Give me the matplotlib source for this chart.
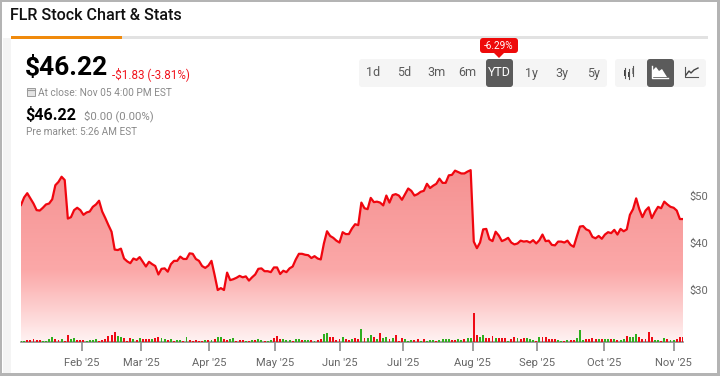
import matplotlib
matplotlib.use('Agg')
import matplotlib.pyplot as plt
import numpy as np
from matplotlib.patches import FancyBboxPatch, Polygon, Rectangle

plt.rcParams['font.family'] = ['Roboto', 'DejaVu Sans']

# daily closes
close = [48.1, 49.7, 50.6, 49.5, 48.4, 47.0, 46.9, 47.5, 48.2, 48.4,
         49.3, 52.3, 53.0, 54.1, 53.4, 45.2, 45.5, 47.0, 47.5, 47.0,
         46.0, 46.5, 46.7, 47.7, 48.2, 49.0, 46.7, 45.3, 43.8, 42.4,
         38.6, 38.5, 38.8, 36.7, 36.1, 35.7, 36.7, 36.4, 37.0, 36.0,
         35.0, 36.0, 35.5, 35.1, 33.3, 34.5, 34.6, 33.9, 35.5, 36.2,
         36.2, 37.1, 36.6, 36.6, 37.8, 37.7, 36.6, 36.2, 35.1, 34.7,
         35.2, 36.2, 33.2, 30.0, 30.4, 30.0, 33.7, 32.1, 32.3, 32.6,
         33.0, 32.7, 32.9, 32.0, 32.7, 33.3, 34.5, 34.6, 34.0, 34.0,
         33.8, 34.8, 34.8, 33.4, 34.1, 33.8, 34.6, 35.0, 36.5, 37.7,
         37.7, 37.5, 37.4, 36.8, 37.2, 36.7, 36.5, 39.9, 42.5, 41.5,
         41.1, 40.5, 40.1, 42.3, 41.9, 41.9, 43.1, 44.0, 43.8, 48.6,
         47.4, 47.2, 49.6, 48.7, 48.8, 48.6, 48.0, 50.1, 48.6, 50.2,
         50.4, 50.1, 49.2, 50.4, 51.6, 51.1, 50.1, 50.4, 50.9, 51.1,
         52.6, 51.7, 52.2, 52.6, 53.7, 52.8, 52.8, 54.4, 54.5, 55.4,
         55.1, 54.8, 54.8, 55.2, 55.5, 40.3, 38.9, 40.1, 42.9, 43.0,
         40.8, 40.4, 42.4, 41.6, 40.4, 40.7, 41.1, 40.1, 39.7, 39.9,
         40.5, 40.3, 40.4, 40.1, 40.6, 39.9, 40.6, 41.8, 40.4, 40.5,
         39.6, 39.5, 40.3, 40.3, 40.1, 40.5, 39.6, 39.2, 41.4, 43.5,
         43.6, 42.9, 42.6, 41.3, 41.0, 41.5, 40.9, 41.8, 42.3, 42.1,
         42.8, 41.8, 43.0, 42.5, 42.9, 46.0, 47.2, 49.5, 47.2, 45.5,
         46.9, 47.6, 45.3, 46.6, 47.7, 47.4, 48.8, 48.2, 47.7, 47.5,
         46.9, 45.1, 45.1]

# volume in millions of shares
volume = [1, 1, 2, 2, 3, 2, 2, 1, 1, 3, 5, 3, 2, 3, 1, 7, 3, 4, 2, 2,
          2, 1, 2, 2, 3, 1, 2, 3, 6, 7, 10, 6, 5, 4, 1, 4, 3, 2, 4, 3,
          3, 3, 3, 4, 5, 4, 3, 2, 3, 1, 2, 2, 1, 5, 2, 1, 2, 1, 1, 2,
          2, 2, 3, 5, 5, 3, 2, 3, 4, 1, 2, 2, 1, 1, 2, 2, 3, 2, 1, 1,
          2, 4, 6, 3, 3, 2, 2, 1, 3, 3, 2, 2, 2, 2, 1, 2, 3, 8, 9, 5,
          5, 2, 3, 5, 3, 2, 3, 4, 3, 13, 4, 4, 7, 5, 3, 9, 4, 5, 3, 4,
          7, 1, 4, 3, 1, 2, 2, 3, 1, 3, 1, 2, 2, 1, 2, 3, 3, 3, 2, 2,
          3, 2, 3, 4, 4, 29, 7, 5, 7, 4, 4, 6, 4, 4, 4, 4, 1, 3, 5, 4,
          3, 4, 4, 3, 2, 1, 5, 5, 5, 3, 3, 3, 2, 1, 1, 2, 2, 2, 4, 12,
          2, 3, 3, 4, 3, 3, 3, 3, 3, 3, 3, 2, 2, 3, 6, 5, 5, 8, 5, 3,
          3, 10, 5, 2, 2, 1, 4, 3, 2, 2, 3, 5, 5]
# the bars drawn in green, all others are red
green_bars = [0, 1, 7, 8, 9, 10, 13, 16, 17, 21, 22, 23, 24, 31, 32, 36, 38,
              42, 45, 46, 48, 50, 51, 53, 59, 61, 63, 64, 67, 68, 72, 74, 76,
              77, 79, 80, 84, 85, 86, 88, 89, 91, 92, 94, 97, 98, 103, 106,
              109, 111, 112, 114, 116, 117, 119, 123, 124, 125, 128, 130, 131,
              132, 134, 135, 136, 137, 140, 141, 143, 144, 147, 148, 152, 156,
              159, 162, 163, 164, 166, 172, 173, 175, 178, 179, 180, 185, 187,
              188, 190, 192, 193, 195, 196, 197, 203, 204, 206, 208, 209]

month_pos = [19.5, 38.5, 60.2, 81.3, 102.2, 122.4, 144.6, 165.4, 186.8, 209]
month_labels = ["Feb '25", "Mar '25", "Apr '25", "May '25", "Jun '25",
                "Jul '25", "Aug '25", "Sep '25", "Oct '25", "Nov '25"]
price_ticks = [30, 40, 50]
range_labels = ['1d', '5d', '3m', '6m', 'YTD', '1y', '3y', '5y']
range_x = [373, 404, 436, 467, 499, 531, 562, 594]

W, H = 720, 376
fig = plt.figure(figsize=(W / 100, H / 100), dpi=100)

# page furniture lives in one axes measured in pixels
bg = fig.add_axes([0, 0, 1, 1])
bg.set_xlim(0, W)
bg.set_ylim(H, 0)
bg.axis('off')
bg.add_patch(Rectangle((0, 0), W, H, fc='#b4b4b4', ec='none'))
bg.add_patch(Rectangle((2, 2), 715, 371, fc='white', ec='none'))
bg.add_patch(Rectangle((3, 38), 8, 335, fc='#f4f4f4', ec='none'))
bg.add_patch(Rectangle((11, 36), 697, 3, fc='#e2e2e2', ec='none'))
bg.add_patch(Rectangle((11, 36), 111, 3, fc='#f08a0c', ec='none'))

bg.text(10, 15.5, 'FLR Stock Chart & Stats', fontsize=11.6, fontweight='medium',
        color='#111111', va='center')
bg.text(25, 68, '$46.22', fontsize=19, fontweight='bold', color='black', va='center')
bg.text(112, 74, '-$1.83 (-3.81%)', fontsize=8.4, color='#f0141e', va='center')
bg.text(37.5, 92.5, 'At close: Nov 05 4:00 PM EST', fontsize=7.3, color='#8a8a8a', va='center')
bg.text(25, 114.5, '$46.22', fontsize=11.6, fontweight='bold', color='black', va='center')
bg.text(84, 116, '$0.00 (0.00%)', fontsize=8.2, color='#8a8a8a', va='center')
bg.text(26, 132, 'Pre market: 5:26 AM EST', fontsize=7.2, color='#8a8a8a', va='center')

# calendar icon
bg.add_patch(Rectangle((26.5, 87.5), 8.5, 8, fc='#e4e4e4', ec='#9a9a9a', lw=0.7))
bg.plot([26.5, 35], [89.8, 89.8], color='#9a9a9a', lw=0.8)


def button(x0, y0, x1, y1, color):
    bg.add_patch(FancyBboxPatch((x0 + 2, y0 + 2), x1 - x0 - 4, y1 - y0 - 4,
                                boxstyle='round,pad=2,rounding_size=3',
                                fc=color, ec='none'))


button(359, 59, 607, 87, '#f5f5f5')
button(615, 59, 706, 87, '#f5f5f5')
button(486, 59, 513, 87, '#5b5b5b')
button(647, 59, 674, 87, '#5b5b5b')
for lab, x in zip(range_labels, range_x):
    bg.text(x, 73, lab, fontsize=9, ha='center', va='center',
            color='white' if lab == 'YTD' else '#5a5a5a')

# tooltip over the YTD button
button(480, 38, 518, 53, '#ee0a0a')
bg.add_patch(Polygon([(494, 53), (504, 53), (499, 58)], fc='#ee0a0a', ec='none'))
bg.text(499, 46, '-6.29%', fontsize=7.2, color='white', ha='center', va='center')

# chart type icons
bg.plot([625, 625], [68, 78], color='#555555', lw=0.8)
bg.plot([629, 629], [69, 79], color='#555555', lw=0.8)
bg.plot([633, 633], [66, 76], color='#555555', lw=0.8)
bg.add_patch(Rectangle((623.8, 70), 2.4, 6, fc='#444444', ec='none'))
bg.add_patch(Rectangle((627.8, 72), 2.4, 5, fc='#444444', ec='none'))
bg.add_patch(Rectangle((631.8, 68), 2.4, 6, fc='#999999', ec='none'))
bg.plot([652, 652, 668], [66, 78, 78], color='white', lw=1)
bg.add_patch(Polygon([(653, 77), (653, 70), (656, 67), (659, 71), (662, 69), (667, 77)],
                     fc='white', ec='none'))
bg.plot([685, 685, 698], [67, 77, 77], color='#555555', lw=0.8)
bg.plot([686, 689, 691, 694, 698], [75, 71, 73, 70, 68], color='#444444', lw=1)

# price chart
left, right, top, bottom = 21, 683, 165, 341.5
rect = [left / W, 1 - bottom / H, (right - left) / W, (bottom - top) / H]
days = np.arange(len(close))
ax = fig.add_axes(rect)
ax.patch.set_alpha(0)
fill = ax.fill_between(days, close, 0, color='none')
stops = np.interp(np.linspace(0, 1, 256), [0, 0.6, 0.76, 1], [145, 168, 197, 242])
grad = np.ones((256, 1, 3))
grad[:, 0, 0] = np.interp(np.linspace(0, 1, 256), [0, 1], [245, 255]) / 255
grad[:, 0, 1] = stops / 255
grad[:, 0, 2] = stops / 255
img = ax.imshow(grad, aspect='auto', extent=(0, 212, 19.04, 56.6), zorder=1)
img.set_clip_path(fill.get_paths()[0], transform=ax.transData)
ax.plot(days, close, color='#f0060f', lw=1.6, zorder=3, solid_joinstyle='round')
ax.set_xlim(0, 212)
ax.set_ylim(19.04, 56.6)
ax.set_xticks(month_pos, month_labels)
ax.set_yticks(price_ticks, ['$%d' % v for v in price_ticks])
ax.yaxis.tick_right()
ax.tick_params(axis='x', length=6.5, width=1.2, color='#8c8c8c', labelcolor='#666666',
               labelsize=8, pad=5.2)
ax.tick_params(axis='y', length=0, labelcolor='#666666', labelsize=8, pad=4.5)
for name in ['top', 'left', 'right']:
    ax.spines[name].set_visible(False)
ax.spines['bottom'].set_color('#8c8c8c')
ax.spines['bottom'].set_linewidth(1.2)
ax.set_axisbelow(False)

# volume bars share the x scale, 1M is about one pixel high
axv = fig.add_axes(rect)
axv.patch.set_alpha(0)
axv.axis('off')
colors = ['#2fae1e' if i in green_bars else '#ef0a14' for i in range(len(volume))]
axv.bar(days, volume, width=0.62, color=colors)
axv.set_xlim(0, 212)
axv.set_ylim(0, bottom - top)

fig.savefig('out.png', dpi=100)
